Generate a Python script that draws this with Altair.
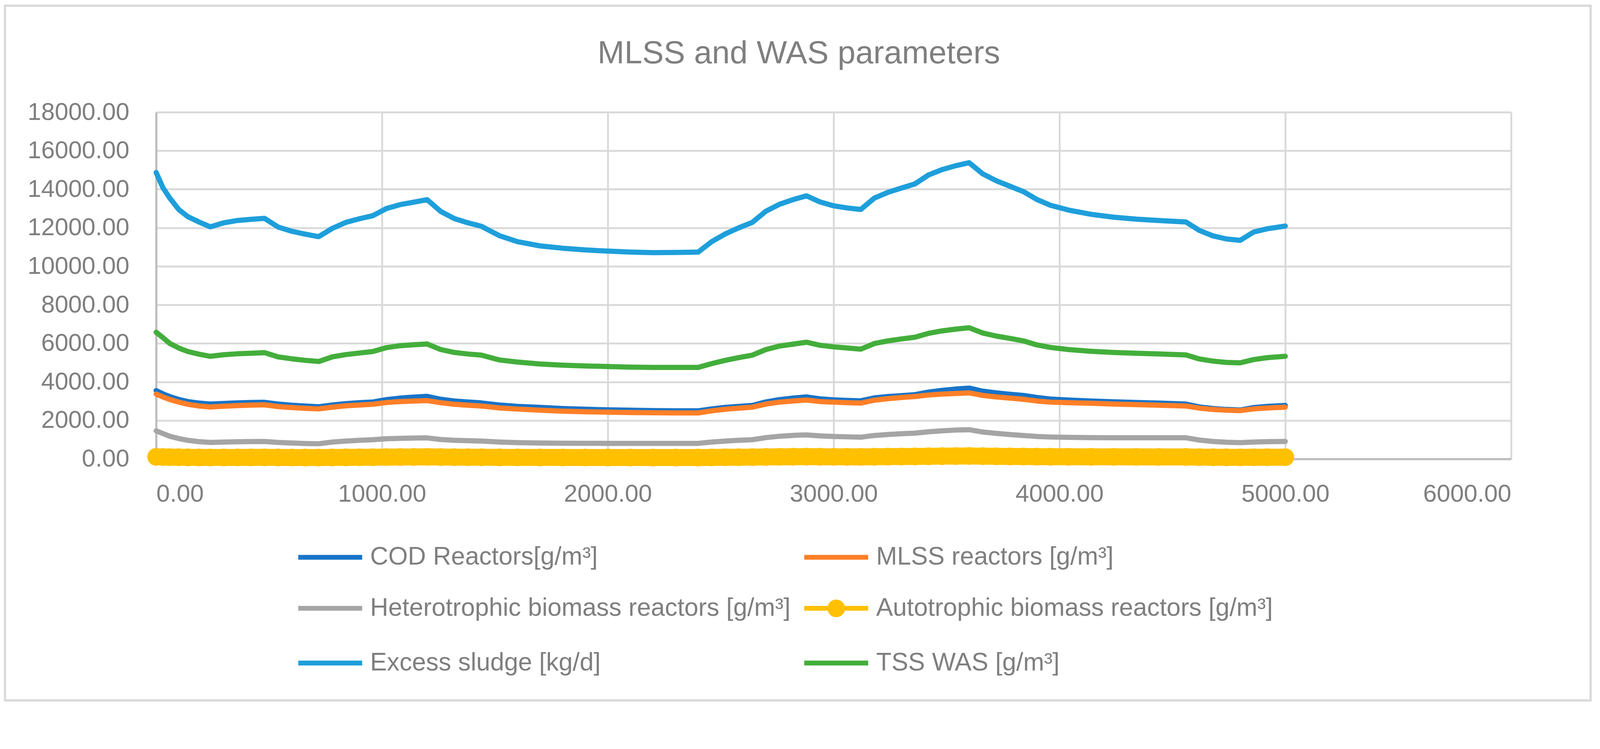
import altair as alt
import pandas as pd

# ---- data ----
T = [0, 30, 60, 100, 140, 190, 240, 300, 360, 420, 480, 540, 600, 660, 720, 780, 840, 900, 960,
     1020, 1080, 1140, 1200, 1260, 1320, 1380, 1440, 1520, 1600, 1700, 1800, 1900, 2000, 2100, 2200,
     2300, 2400, 2460, 2520, 2580, 2640, 2700, 2760, 2820, 2880, 2940, 3000, 3060, 3120, 3180, 3240,
     3300, 3360, 3420, 3480, 3540, 3600, 3660, 3720, 3780, 3840, 3900, 3960, 4040, 4140, 4240, 4340,
     4440, 4560, 4620, 4680, 4740, 4800, 4860, 4920, 5000]

cod = [3550, 3380, 3240, 3090, 2980, 2900, 2850, 2880, 2910, 2930, 2940, 2850, 2790, 2750, 2710, 2800,
       2870, 2920, 2960, 3080, 3160, 3210, 3250, 3100, 3010, 2960, 2910, 2800, 2730, 2680, 2620, 2580,
       2550, 2530, 2510, 2500, 2500, 2600, 2680, 2730, 2780, 2960, 3080, 3160, 3220, 3120, 3070, 3040,
       3020, 3170, 3240, 3290, 3340, 3470, 3560, 3630, 3680, 3520, 3430, 3360, 3300, 3190, 3110, 3060,
       3010, 2970, 2930, 2900, 2850, 2700, 2620, 2570, 2540, 2670, 2730, 2780]

mlss = [3370, 3220, 3090, 2950, 2840, 2750, 2700, 2740, 2770, 2795, 2810, 2720, 2670, 2630, 2600, 2690,
        2760, 2800, 2840, 2930, 2980, 3010, 3030, 2920, 2840, 2790, 2750, 2650, 2590, 2530, 2480, 2450,
        2430, 2410, 2400, 2390, 2390, 2500, 2580, 2640, 2690, 2850, 2950, 3010, 3060, 2980, 2950, 2920,
        2900, 3050, 3130, 3190, 3240, 3320, 3370, 3400, 3430, 3300, 3220, 3160, 3100, 3010, 2950, 2920,
        2890, 2850, 2820, 2790, 2750, 2640, 2570, 2530, 2510, 2600, 2650, 2690]

hetero = [1460, 1320, 1180, 1060, 970, 900, 860, 880, 895, 905, 910, 860, 830, 805, 790, 880,
          930, 970, 1000, 1050, 1070, 1085, 1095, 1010, 970, 950, 930, 880, 850, 830, 820, 815,
          810, 810, 810, 810, 810, 880, 930, 970, 1000, 1110, 1180, 1225, 1250, 1200, 1170, 1150,
          1130, 1220, 1270, 1310, 1340, 1410, 1460, 1500, 1520, 1400, 1330, 1270, 1220, 1170, 1140, 1120,
          1105, 1100, 1100, 1100, 1100, 980, 910, 870, 850, 880, 900, 910]

auto = [110, 100, 95, 90, 85, 80, 78, 80, 82, 83, 84, 80, 77, 75, 73, 80,
        85, 88, 92, 98, 102, 105, 108, 100, 95, 92, 90, 85, 82, 80, 78, 77,
        76, 75, 75, 75, 75, 82, 88, 92, 96, 105, 112, 117, 120, 115, 112, 110,
        108, 116, 122, 127, 131, 140, 147, 152, 156, 145, 138, 132, 127, 121, 117, 114,
        111, 109, 108, 107, 106, 96, 90, 86, 84, 88, 91, 93]

excess = [14870, 14080, 13550, 12950, 12580, 12300, 12050, 12260, 12380, 12440, 12490, 12040, 11820, 11670,
          11540, 11970, 12280, 12470, 12630, 13000, 13200, 13330, 13460, 12850, 12480, 12260, 12080, 11590,
          11280, 11060, 10940, 10850, 10790, 10740, 10710, 10720, 10740, 11280, 11680, 12000, 12280, 12860,
          13220, 13460, 13660, 13340, 13140, 13030, 12950, 13540, 13840, 14060, 14280, 14740, 15020, 15220,
          15380, 14800, 14440, 14160, 13880, 13470, 13170, 12920, 12700, 12550, 12450, 12380, 12300, 11860,
          11580, 11420, 11350, 11780, 11950, 12090]

tss = [6580, 6300, 6000, 5760, 5580, 5440, 5330, 5410, 5460, 5490, 5520, 5300, 5200, 5120, 5060, 5300,
       5420, 5500, 5580, 5780, 5880, 5930, 5970, 5680, 5530, 5450, 5390, 5140, 5030, 4930, 4870, 4830,
       4800, 4770, 4750, 4750, 4750, 4950, 5120, 5260, 5390, 5680, 5860, 5960, 6060, 5900, 5820, 5760,
       5700, 5990, 6130, 6230, 6320, 6520, 6650, 6740, 6810, 6540, 6380, 6260, 6130, 5920, 5790, 5680,
       5590, 5530, 5490, 5450, 5400, 5190, 5080, 5010, 4990, 5160, 5260, 5330]

series_names = ["COD Reactors[g/m³]", "MLSS reactors [g/m³]", "Heterotrophic biomass reactors [g/m³]",
                "Autotrophic biomass reactors [g/m³]", "Excess sludge [kg/d]", "TSS WAS [g/m³]"]
series_values = [cod, mlss, hetero, auto, excess, tss]
series_colors = ["#1874C8", "#FF7F27", "#A5A5A5", "#FFC000", "#1E9FDB", "#43AE3B"]

x_ticks = [0, 1000, 2000, 3000, 4000, 5000, 6000]
y_ticks = [0, 2000, 4000, 6000, 8000, 10000, 12000, 14000, 16000, 18000]
title_text = "MLSS and WAS parameters"

# ---- build table ----
rows = []
for name, vals in zip(series_names, series_values):
    for t, v in zip(T, vals):
        rows.append({"t": t, "v": v, "series": name})
df = pd.DataFrame(rows)

FONT = "Liberation Sans"
TXT = "#7F7F7F"
W, H = 3666, 938
TOP = 241  # top padding

xs = alt.X("t:Q", scale=alt.Scale(domain=[0, 6000], nice=False),
           axis=alt.Axis(values=x_ticks, format=".2f", title=None))
ys = alt.Y("v:Q", scale=alt.Scale(domain=[0, 18000], nice=False),
           axis=alt.Axis(values=y_ticks, format=".2f", title=None))
color_scale = alt.Scale(domain=series_names, range=series_colors)

line_path = "M-1,0L1,0"
auto_path = ("M-1,0L1,0M0.2,0A0.2,0.2,0,1,1,-0.2,0A0.2,0.2,0,1,1,0.2,0Z"
             "M0.07,0A0.07,0.07,0,1,1,-0.07,0A0.07,0.07,0,1,1,0.07,0Z")
shape_range = [auto_path if n.startswith("Autotrophic") else line_path for n in series_names]

layers = []

# frame around the whole chart and the title (decoration)
one = pd.DataFrame({"a": [0]})
frame = alt.Chart(one).mark_rect(
    fillOpacity=0, stroke="#D9D9D9", strokeWidth=6
).encode(x=alt.value(-409), x2=alt.value(3881), y=alt.value(-288), y2=alt.value(1591))
layers.append(frame)
title = alt.Chart(one).mark_text(
    font=FONT, fontSize=87, color=TXT, align="center", baseline="alphabetic"
).encode(x=alt.value(1739), y=alt.value(-132), text=alt.value(title_text))
layers.append(title)

for name, col in zip(series_names, series_colors):
    base = alt.Chart(df).transform_filter(alt.datum.series == name)
    if name.startswith("Autotrophic"):
        layers.append(base.mark_line(color=col, strokeWidth=46, strokeCap="round",
                                     strokeJoin="round").encode(x=xs, y=ys))
        layers.append(base.mark_circle(color=col, size=2300, opacity=1).encode(x=xs, y=ys))
    else:
        layers.append(base.mark_line(color=col, strokeWidth=14, strokeCap="round",
                                     strokeJoin="round").encode(x=xs, y=ys))

# legend carrier: points of size 0 (invisible); only its legend is seen
legend_layer = alt.Chart(df).mark_point(filled=False, strokeWidth=13, size=0, opacity=1).encode(
    x=xs, y=ys,
    color=alt.Color("series:N", scale=color_scale, title=None),
    shape=alt.Shape("series:N", scale=alt.Scale(domain=series_names, range=shape_range), title=None),
)
layers.append(legend_layer)

chart = alt.layer(*layers).properties(
    width=W, height=H,
    autosize=alt.AutoSizeParams(type="none"),
    padding={"left": 414, "top": TOP, "right": 232, "bottom": 1901 - TOP - H},
).configure_view(stroke=None).configure_axis(
    labelFont=FONT, labelFontSize=66, labelColor=TXT, ticks=False, labelLimit=0,
    domainColor="#BFBFBF", domainWidth=6, gridColor="#D9D9D9", gridWidth=5, grid=True,
).configure_axisY(labelPadding=73).configure_axisX(labelPadding=63).configure_legend(
    orient="none", legendX=378, legendY=1111, columns=2, direction="horizontal", padding=0,
    symbolSize=29929, symbolStrokeWidth=13, symbolOpacity=1, labelFont=FONT, labelFontSize=68,
    labelColor=TXT, labelOffset=15, columnPadding=10, rowPadding=11, labelLimit=3000,
)

chart.save("out.html", embed_options={"renderer": "svg", "actions": False})
